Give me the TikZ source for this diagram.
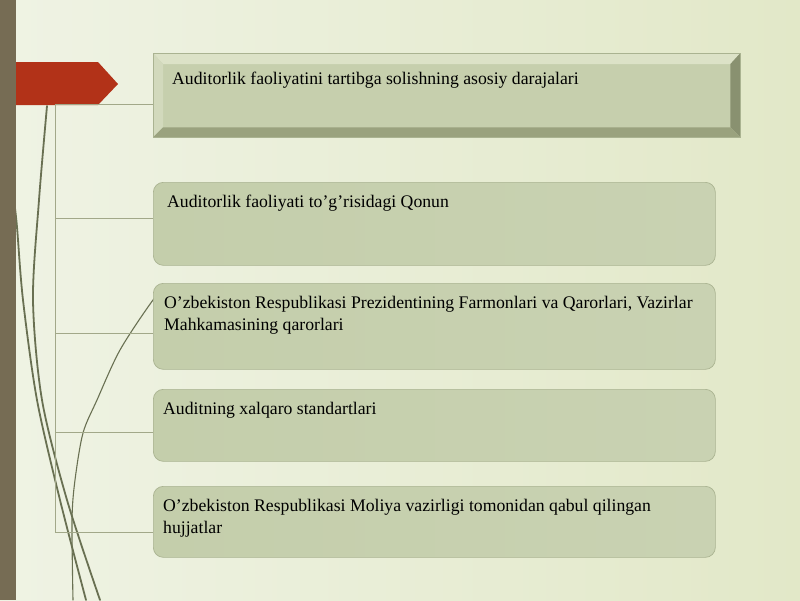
\documentclass[tikz,border=0pt]{standalone}
\usepackage{fontspec}
\setmainfont{Liberation Serif}
\usetikzlibrary{calc}
\definecolor{bgL}{HTML}{EFF3E4}
\definecolor{bgR}{HTML}{E2E8C8}
\definecolor{stripC}{HTML}{766C54}
\definecolor{redC}{HTML}{B23218}
\definecolor{boxF}{HTML}{C4CEAB}
\definecolor{boxF2}{HTML}{C9D2B2}
\definecolor{boxD}{HTML}{AAB391}
\definecolor{faceC}{HTML}{C6CFAD}
\definecolor{bvTop}{HTML}{DCE2C7}
\definecolor{bvLeft}{HTML}{D2D9BC}
\definecolor{bvRight}{HTML}{899170}
\definecolor{bvBot}{HTML}{9AA27E}
\definecolor{lineC}{HTML}{A2A889}
\definecolor{wisp}{HTML}{697052}
\tikzset{
  roundbox/.style={draw=boxD, line width=0.7pt, left color=boxF, right color=boxF2, rounded corners=10pt, minimum width=562pt, minimum height=#1, anchor=north west, inner sep=0pt},
  boxtext/.style={anchor=north west, align=left, inner sep=0pt, font=\fontsize{17.7}{22}\selectfont, text=black},
  branch/.style={draw=lineC, line width=0.8pt},
  wispline/.style={draw=wisp, line width=#1, line cap=round}
}
\begin{document}
\begin{tikzpicture}[x=1pt,y=-1pt]
\useasboundingbox (0,0) rectangle (800,600);
\shade[left color=bgL,right color=bgR] (0,0) rectangle (800,600);

% decorative wisps
\draw[wispline=1.8pt] plot[smooth] coordinates {(47,106) (39,200) (33,300) (42,400) (67,500) (100,600)};
\draw[wispline=1.8pt] plot[smooth] coordinates {(14,200) (17,227) (23,300) (37,400) (60,500) (86,600)};
\draw[wispline=1.1pt] plot[smooth] coordinates {(168,285) (153,300) (120,350) (97,400) (83,433) (75,480) (72,520) (73,600)};

% left strip
\fill[stripC] (0,0) rectangle (16,600);

% red arrow
\fill[redC] (16,62) -- (98,62) -- (118,84) -- (98,105) -- (16,105) -- cycle;

% top bevelled box
\node[fill=faceC, minimum width=587pt, minimum height=84pt, anchor=north west, inner sep=0pt] (b1) at (153,53) {};
\fill[bvTop] (b1.north west) -- (b1.north east) -- ($(b1.north east)+(-10,11)$) -- ($(b1.north west)+(10,11)$) -- cycle;
\fill[bvLeft] (b1.north west) -- ($(b1.north west)+(10,11)$) -- ($(b1.south west)+(10,-10)$) -- (b1.south west) -- cycle;
\fill[bvRight] (b1.north east) -- ($(b1.north east)+(-10,11)$) -- ($(b1.south east)+(-10,-10)$) -- (b1.south east) -- cycle;
\fill[bvBot] (b1.south west) -- ($(b1.south west)+(10,-10)$) -- ($(b1.south east)+(-10,-10)$) -- (b1.south east) -- cycle;
\draw[boxD, line width=0.5pt] (b1.north west) rectangle (b1.south east);
\node[boxtext] (t1) at ($(b1.north west)+(19,19)$) {Auditorlik faoliyatini tartibga solishning asosiy darajalari};

% rounded boxes
\node[roundbox=83pt] (b2) at (153,182) {};
\node[roundbox=86pt] (b3) at (153,283) {};
\node[roundbox=72pt] (b4) at (153,389) {};
\node[roundbox=71pt] (b5) at (153,486) {};

\node[boxtext] (t2) at ($(b2.north west)+(14,13)$) {Auditorlik faoliyati to’g’risidagi Qonun};
\node[boxtext] (t3) at ($(b3.north west)+(11,13)$) {O’zbekiston Respublikasi Prezidentining Farmonlari va Qarorlari, Vazirlar\\Mahkamasining qarorlari};
\node[boxtext] (t4) at ($(b4.north west)+(10,13)$) {Auditning xalqaro standartlari};
\node[boxtext] (t5) at ($(b5.north west)+(10,13)$) {O’zbekiston Respublikasi Moliya vazirligi tomonidan qabul qilingan\\hujjatlar};

% connectors
\coordinate (j1) at (55,104);
\coordinate (j2) at (55,218);
\coordinate (j3) at (55,333);
\coordinate (j4) at (55,432);
\coordinate (j5) at (55,532);
\draw[branch] (j1) -- (j5);
\draw[branch] (j1) -- (j1 -| b1.west);
\draw[branch] (j2) -- (j2 -| b2.west);
\draw[branch] (j3) -- (j3 -| b3.west);
\draw[branch] (j4) -- (j4 -| b4.west);
\draw[branch] (j5) -- (j5 -| b5.west);
\end{tikzpicture}
\end{document}
